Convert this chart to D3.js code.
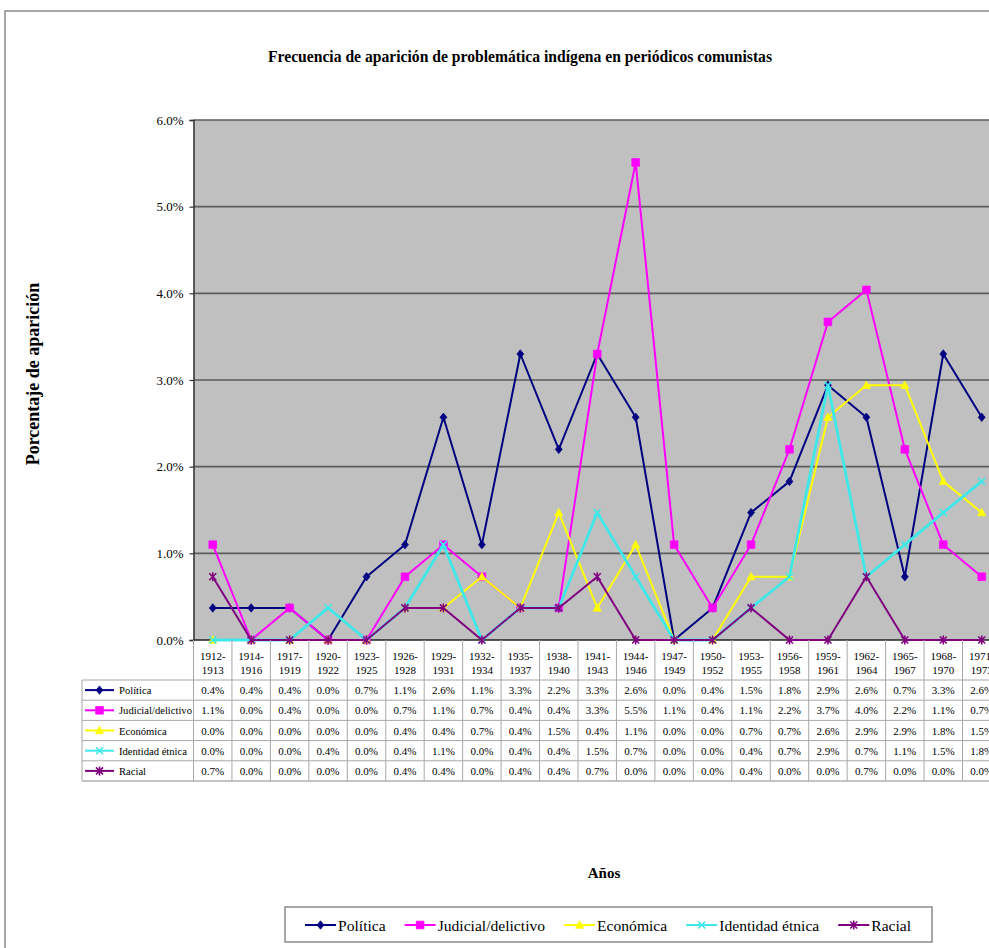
<!DOCTYPE html>
<html>
<head>
<meta charset="utf-8">
<script src="https://cdn.jsdelivr.net/npm/d3@7"></script>
<style>
  html, body { margin: 0; padding: 0; background: #fff; overflow: hidden; }
  svg { display: block; }
  text { font-family: "Liberation Serif", "Times New Roman", serif; fill: #000; }
</style>
</head>
<body>
<svg id="chart" width="1060" height="948"></svg>
<script>
// Periods covered by the survey of communist newspapers
const categories = ["1912-1913","1914-1916","1917-1919","1920-1922","1923-1925","1926-1928","1929-1931",
  "1932-1934","1935-1937","1938-1940","1941-1943","1944-1946","1947-1949","1950-1952","1953-1955",
  "1956-1958","1959-1961","1962-1964","1965-1967","1968-1970","1971-1973"];

// Share of articles (in %) mentioning each type of indigenous issue
const politica   = [0.37,0.37,0.37,0,0.73,1.10,2.57,1.10,3.30,2.20,3.30,2.57,0,0.37,1.47,1.83,2.94,2.57,0.73,3.30,2.57];
const judicial   = [1.10,0,0.37,0,0,0.73,1.10,0.73,0.37,0.37,3.30,5.51,1.10,0.37,1.10,2.20,3.67,4.04,2.20,1.10,0.73];
const economica  = [0,0,0,0,0,0.37,0.37,0.73,0.37,1.47,0.37,1.10,0,0,0.73,0.73,2.57,2.94,2.94,1.83,1.47];
const identidad  = [0,0,0,0.37,0,0.37,1.10,0,0.37,0.37,1.47,0.73,0,0,0.37,0.73,2.94,0.73,1.10,1.47,1.83];
const racial     = [0.73,0,0,0,0,0.37,0.37,0,0.37,0.37,0.73,0,0,0,0.37,0,0,0.73,0,0,0];

const seriesNames = ["Política","Judicial/delictivo","Económica","Identidad étnica","Racial"];
const yTicks = [0,1,2,3,4,5,6];

const series = [
  {name: seriesNames[0], values: politica,  color: "#000080", marker: "diamond",  width: 2},
  {name: seriesNames[1], values: judicial,  color: "#FF00FF", marker: "square",   width: 2},
  {name: seriesNames[2], values: economica, color: "#FFFF00", marker: "triangle", width: 2},
  {name: seriesNames[3], values: identidad, color: "#3FE8E8", marker: "cross",    width: 2.8},
  {name: seriesNames[4], values: racial,    color: "#800080", marker: "star",     width: 2}
];

const svg = d3.select("#chart");

// Layout
const plot = {left: 193.5, top: 120, bottom: 640, step: 38.45};
plot.right = plot.left + plot.step * categories.length;

const x = d3.scaleBand().domain(categories).range([plot.left, plot.right]).padding(0);
const y = d3.scaleLinear().domain([0, 6]).range([plot.bottom, plot.top]);
const cx = c => x(c) + x.bandwidth() / 2;
const fmt = v => d3.format(".1f")(v) + "%";

// Marker shapes
function markerPath(kind) {
  switch (kind) {
    case "diamond":  return "M0,-4.2L3.4,0L0,4.2L-3.4,0Z";
    case "square":   return "M-3.8,-3.8H3.8V3.8H-3.8Z";
    case "triangle": return "M0,-4.2L4,3.2L-4,3.2Z";
    case "cross":    return "M-3.5,-3.5L3.5,3.5M3.5,-3.5L-3.5,3.5";
    case "star":     return "M-3.5,-3.5L3.5,3.5M3.5,-3.5L-3.5,3.5M0,-4.5V4.5";
  }
}
function drawMarker(g, s, px, py) {
  const stroked = s.marker === "cross" || s.marker === "star";
  g.append("path")
    .attr("d", markerPath(s.marker))
    .attr("transform", `translate(${px},${py})`)
    .attr("fill", stroked ? "none" : s.color)
    .attr("stroke", s.color)
    .attr("stroke-width", stroked ? 1.6 : 0.8);
}

// Outer chart frame
svg.append("rect")
  .attr("x", 5).attr("y", 11).attr("width", 1100).attr("height", 1000)
  .attr("fill", "#fff").attr("stroke", "#8a8a8a").attr("stroke-width", 1.5);

// Title
svg.append("text")
  .attr("x", 268).attr("y", 62)
  .attr("font-size", 17).attr("font-weight", "bold")
  .attr("textLength", 504).attr("lengthAdjust", "spacingAndGlyphs")
  .text("Frecuencia de aparición de problemática indígena en periódicos comunistas");

// Plot background
svg.append("rect")
  .attr("x", plot.left).attr("y", plot.top)
  .attr("width", plot.right - plot.left).attr("height", plot.bottom - plot.top)
  .attr("fill", "#C0C0C0");

// Gridlines
svg.append("g").selectAll("line").data(yTicks).join("line")
  .attr("x1", plot.left).attr("x2", plot.right)
  .attr("y1", d => y(d)).attr("y2", d => y(d))
  .attr("stroke", d => d === 0 ? "#222" : "#5c5c5c").attr("stroke-width", 1.6);

// Y axis
const yAxis = svg.append("g")
  .attr("transform", `translate(${plot.left},0)`)
  .call(d3.axisLeft(y).tickValues(yTicks).tickFormat(d => d.toFixed(1) + "%").tickSize(4).tickPadding(6));
yAxis.select(".domain").attr("stroke", "#333").attr("stroke-width", 1.5);
yAxis.selectAll(".tick line").attr("stroke", "#333").attr("stroke-width", 1.2);
yAxis.selectAll(".tick text")
  .attr("font-family", "'Liberation Serif','Times New Roman',serif")
  .attr("font-size", 13).attr("fill", "#000");

// Y axis title
svg.append("text")
  .attr("transform", "translate(39,374) rotate(-90)")
  .attr("text-anchor", "middle")
  .attr("font-size", 18).attr("font-weight", "bold")
  .text("Porcentaje de aparición");

// Series lines and markers
const line = d3.line().x((d, i) => cx(categories[i])).y(d => y(d));
series.forEach(s => {
  const g = svg.append("g");
  g.append("path")
    .attr("d", line(s.values))
    .attr("fill", "none").attr("stroke", s.color)
    .attr("stroke-width", s.width).attr("stroke-linejoin", "round");
  s.values.forEach((v, i) => drawMarker(g, s, cx(categories[i]), y(v)));
});

// Data table
const table = {left: 82, headerTop: plot.bottom, headerBottom: 680, rowH: 20.2};
const rowTop = i => table.headerBottom + i * table.rowH;
const tableBottom = rowTop(series.length);
const tg = svg.append("g");

// Horizontal rules
d3.range(series.length + 1).forEach(i => {
  tg.append("line")
    .attr("x1", table.left).attr("x2", plot.right)
    .attr("y1", rowTop(i)).attr("y2", rowTop(i))
    .attr("stroke", i === series.length ? "#888" : "#a8a8a8").attr("stroke-width", 1);
});
// Vertical rules
tg.append("line").attr("x1", table.left).attr("x2", table.left)
  .attr("y1", table.headerBottom).attr("y2", tableBottom).attr("stroke", "#a8a8a8");
categories.forEach(c => {
  tg.append("line").attr("x1", x(c)).attr("x2", x(c))
    .attr("y1", table.headerTop).attr("y2", tableBottom).attr("stroke", "#a8a8a8");
});

// Category header labels
categories.forEach(c => {
  const [a, b] = c.split("-");
  const t = tg.append("text").attr("text-anchor", "middle").attr("font-size", 11);
  t.append("tspan").attr("x", cx(c)).attr("y", 660).text(a + "-");
  t.append("tspan").attr("x", cx(c)).attr("y", 674).text(b);
});

// Rows: legend key + values
series.forEach((s, r) => {
  const mid = rowTop(r) + table.rowH / 2;
  tg.append("line").attr("x1", 85).attr("x2", 114).attr("y1", mid).attr("y2", mid)
    .attr("stroke", s.color).attr("stroke-width", 2);
  drawMarker(tg, s, 99.5, mid);
  tg.append("text").attr("x", 119).attr("y", mid + 4).attr("font-size", 10.6).text(s.name);
  s.values.forEach((v, i) => {
    tg.append("text").attr("x", cx(categories[i])).attr("y", mid + 4)
      .attr("text-anchor", "middle").attr("font-size", 11).text(fmt(v));
  });
});

// X axis title
svg.append("text")
  .attr("x", 604).attr("y", 878).attr("text-anchor", "middle")
  .attr("font-size", 15).attr("font-weight", "bold")
  .text("Años");

// Legend
const lg = svg.append("g");
lg.append("rect").attr("x", 285).attr("y", 907).attr("width", 647).attr("height", 35)
  .attr("fill", "#fff").attr("stroke", "#8a8a8a").attr("stroke-width", 1.5);
let lx = 305;
const ly = 925;
series.forEach(s => {
  lg.append("line").attr("x1", lx).attr("x2", lx + 31).attr("y1", ly).attr("y2", ly)
    .attr("stroke", s.color).attr("stroke-width", 2);
  drawMarker(lg, s, lx + 15.5, ly);
  const t = lg.append("text").attr("x", lx + 33).attr("y", ly + 5.5).attr("font-size", 15.6).text(s.name);
  lx += 33 + t.node().getComputedTextLength() + 19;
});
</script>
</body>
</html>
